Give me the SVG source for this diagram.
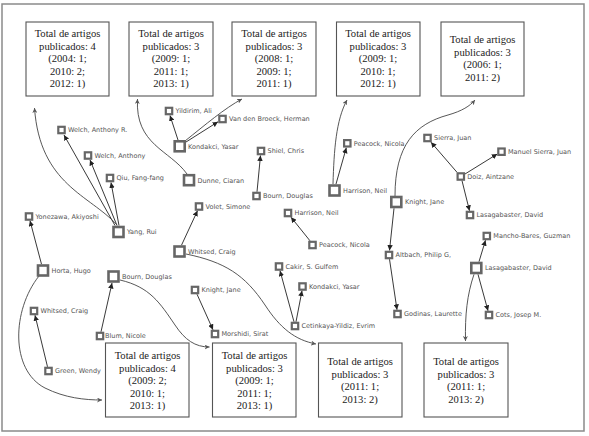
<svg xmlns="http://www.w3.org/2000/svg" width="589" height="436" viewBox="0 0 589 436">
<defs>
<marker id="ah" viewBox="0 0 10 10" refX="10" refY="5" markerWidth="5.5" markerHeight="5.5" markerUnits="userSpaceOnUse" orient="auto"><path d="M0,0 L10,5 L0,10 Z" fill="#222"/></marker>
<marker id="ahg" viewBox="0 0 10 10" refX="10" refY="5" markerWidth="5" markerHeight="5" markerUnits="userSpaceOnUse" orient="auto"><path d="M0,0 L10,5 L0,10 L3,5 Z" fill="#555"/></marker>
<style>
.frame{fill:#fff;stroke:#8a8a8a;stroke-width:1.5}
.box{fill:#fff;stroke:#555;stroke-width:1.1}
.bt{font-family:"Liberation Serif","Times New Roman",serif;font-size:10.6px;fill:#222;text-anchor:middle}
.s{fill:#fff;stroke:#666;stroke-width:2.2}
.b{fill:#fff;stroke:#666;stroke-width:2.6}
.lb{font-family:"DejaVu Sans",Verdana,sans-serif;font-size:6.5px;fill:#555}
.e{fill:none;stroke:#222;stroke-width:0.9;marker-end:url(#ah)}
.c{fill:none;stroke:#444;stroke-width:0.9;marker-end:url(#ahg)}
</style>
</defs>
<rect class="frame" x="2" y="4" width="582" height="427"/>

<g id="box1"><rect class="box" x="26" y="22" width="83" height="74"/><text class="bt" x="67.5" y="37">Total de artigos</text><text class="bt" x="67.5" y="49.5">publicados: 4</text><text class="bt" x="67.5" y="62">(2004: 1;</text><text class="bt" x="67.5" y="74.5">2010: 2;</text><text class="bt" x="67.5" y="87">2012: 1)</text></g>
<g id="box2"><rect class="box" x="129" y="22" width="84" height="74"/><text class="bt" x="171" y="37">Total de artigos</text><text class="bt" x="171" y="49.5">publicados: 3</text><text class="bt" x="171" y="62">(2009: 1;</text><text class="bt" x="171" y="74.5">2011: 1;</text><text class="bt" x="171" y="87">2013: 1)</text></g>
<g id="box3"><rect class="box" x="232" y="22" width="84" height="74"/><text class="bt" x="274" y="37">Total de artigos</text><text class="bt" x="274" y="49.5">publicados: 3</text><text class="bt" x="274" y="62">(2008: 1;</text><text class="bt" x="274" y="74.5">2009: 1;</text><text class="bt" x="274" y="87">2011: 1)</text></g>
<g id="box4"><rect class="box" x="336.5" y="22" width="83.5" height="74"/><text class="bt" x="378" y="37">Total de artigos</text><text class="bt" x="378" y="49.5">publicados: 3</text><text class="bt" x="378" y="62">(2009: 1;</text><text class="bt" x="378" y="74.5">2010: 1;</text><text class="bt" x="378" y="87">2012: 1)</text></g>
<g id="box5"><rect class="box" x="441" y="22" width="83" height="74"/><text class="bt" x="482.5" y="43">Total de artigos</text><text class="bt" x="482.5" y="55.5">publicados: 3</text><text class="bt" x="482.5" y="68">(2006: 1;</text><text class="bt" x="482.5" y="80.5">2011: 2)</text></g>
<g id="box6"><rect class="box" x="105.5" y="343" width="83.5" height="74"/><text class="bt" x="147.5" y="359">Total de artigos</text><text class="bt" x="147.5" y="371.5">publicados: 4</text><text class="bt" x="147.5" y="384">(2009: 2;</text><text class="bt" x="147.5" y="396.5">2010: 1;</text><text class="bt" x="147.5" y="409">2013: 1)</text></g>
<g id="box7"><rect class="box" x="212.5" y="343" width="83.5" height="74"/><text class="bt" x="254.5" y="359">Total de artigos</text><text class="bt" x="254.5" y="371.5">publicados: 3</text><text class="bt" x="254.5" y="384">(2009: 1;</text><text class="bt" x="254.5" y="396.5">2011: 1;</text><text class="bt" x="254.5" y="409">2013: 1)</text></g>
<g id="box8"><rect class="box" x="318.5" y="343" width="83.5" height="74"/><text class="bt" x="360" y="365">Total de artigos</text><text class="bt" x="360" y="377.5">publicados: 3</text><text class="bt" x="360" y="390">(2011: 1;</text><text class="bt" x="360" y="402.5">2013: 2)</text></g>
<g id="box9"><rect class="box" x="424" y="343" width="84" height="74"/><text class="bt" x="466" y="365">Total de artigos</text><text class="bt" x="466" y="377.5">publicados: 3</text><text class="bt" x="466" y="390">(2011: 1;</text><text class="bt" x="466" y="402.5">2013: 2)</text></g>

<g id="connectors">
<path class="e" d="M115,225.5 L64,135"/>
<path class="e" d="M117,225.5 L90,160"/>
<path class="e" d="M119,225.5 L111,182.5"/>
<path class="c" d="M117,225 C90,195 40,185 34.5,108"/>
<path class="e" d="M178,140 L170,115.5"/>
<path class="e" d="M186,142 L218,121.8"/>
<path class="c" d="M185,141 C205,125 225,108 242,99"/>
<path class="c" d="M187,174 C170,150 135,145 137.5,99"/>
<path class="e" d="M257,191.8 L260.5,155.5"/>
<path class="e" d="M336,184 L346.3,147.8"/>
<path class="c" d="M333,184 C334,150 336,120 347,100"/>
<path class="c" d="M395,196 C395,145 415,124 448,115 C462,111 470,106 475,100"/>
<path class="e" d="M394,208.3 L389.5,250.5"/>
<path class="e" d="M389.5,259.2 L397,309.8"/>
<path class="e" d="M457,172.3 L431,142.2"/>
<path class="e" d="M465,174 L497.3,154"/>
<path class="e" d="M462,180.7 L469.5,210.8"/>
<path class="e" d="M479,261.7 L485.5,240.2"/>
<path class="e" d="M478,274.3 L488,310.8"/>
<path class="c" d="M474,274.3 C467,295 465,315 465.5,341"/>
<path class="e" d="M41.5,264.2 L30,220.7"/>
<path class="c" d="M39,276 C12,310 10,370 45,388 C65,398 85,400 102,400"/>
<path class="e" d="M47.5,366.8 L35,315.2"/>
<path class="e" d="M101,331.8 L112,283"/>
<path class="c" d="M120,280 C150,287 160,303 175,325 C185,340 195,347 209.5,347"/>
<path class="e" d="M197,294.2 L213,329.8"/>
<path class="e" d="M181.5,245.2 L197.5,210.7"/>
<path class="c" d="M186,254 C225,262 245,275 265,305 C280,328 295,340 316,344"/>
<path class="e" d="M310,240.8 L291,217.2"/>
<path class="e" d="M294,321.8 L280,270.7"/>
<path class="e" d="M296,321.8 L302,290.7"/>
</g>

<g id="n_yildirim"><rect class="s" x="165.8" y="107.8" width="6.4" height="6.4"/><text class="lb" x="175.5" y="113.3">Yildirim, Ali</text></g>
<g id="n_vandenbroeck"><rect class="s" x="219.3" y="115.8" width="6.4" height="6.4"/><text class="lb" x="229" y="121.3">Van den Broeck, Herman</text></g>
<g id="n_welchr"><rect class="s" x="58.3" y="126.8" width="6.4" height="6.4"/><text class="lb" x="68" y="132.3">Welch, Anthony R.</text></g>
<g id="n_welcha"><rect class="s" x="84.8" y="152.3" width="6.4" height="6.4"/><text class="lb" x="94.5" y="157.8">Welch, Anthony</text></g>
<g id="n_qiu"><rect class="s" x="106.8" y="174.8" width="6.4" height="6.4"/><text class="lb" x="116.5" y="180.3">Qiu, Fang-fang</text></g>
<g id="n_kondakci1"><rect class="b" x="174.7" y="141.3" width="10" height="10"/><text class="lb" x="188" y="148.6">Kondakci, Yasar</text></g>
<g id="n_dunne"><rect class="b" x="184" y="175.2" width="10" height="10"/><text class="lb" x="197.5" y="182.5">Dunne, Ciaran</text></g>
<g id="n_shiel"><rect class="s" x="257.8" y="147.8" width="6.4" height="6.4"/><text class="lb" x="267.5" y="153.3">Shiel, Chris</text></g>
<g id="n_bourn1"><rect class="s" x="253.3" y="192.8" width="6.4" height="6.4"/><text class="lb" x="263" y="198.3">Bourn, Douglas</text></g>
<g id="n_volet"><rect class="s" x="195.8" y="203.3" width="6.4" height="6.4"/><text class="lb" x="205.5" y="208.8">Volet, Simone</text></g>
<g id="n_yonezawa"><rect class="s" x="25.8" y="213.3" width="6.4" height="6.4"/><text class="lb" x="35.5" y="218.8">Yonezawa, Akiyoshi</text></g>
<g id="n_yang"><rect class="b" x="113.5" y="227" width="10" height="10"/><text class="lb" x="127" y="234.3">Yang, Rui</text></g>
<g id="n_whitsed1"><rect class="b" x="174.5" y="246.5" width="10" height="10"/><text class="lb" x="188" y="253.8">Whitsed, Craig</text></g>
<g id="n_horta"><rect class="b" x="38" y="265.5" width="10" height="10"/><text class="lb" x="51.5" y="272.8">Horta, Hugo</text></g>
<g id="n_bourn2"><rect class="b" x="108.5" y="271.5" width="10" height="10"/><text class="lb" x="122" y="278.8">Bourn, Douglas</text></g>
<g id="n_knight1"><rect class="s" x="191.8" y="286.8" width="6.4" height="6.4"/><text class="lb" x="201.5" y="292.3">Knight, Jane</text></g>
<g id="n_whitsed2"><rect class="s" x="30.8" y="307.8" width="6.4" height="6.4"/><text class="lb" x="40.5" y="313.3">Whitsed, Craig</text></g>
<g id="n_blum"><rect class="s" x="96.8" y="332.8" width="6.4" height="6.4"/><text class="lb" x="105" y="338.3">Blum, Nicole</text></g>
<g id="n_morshidi"><rect class="s" x="211.8" y="330.8" width="6.4" height="6.4"/><text class="lb" x="221.5" y="336.3">Morshidi, Sirat</text></g>
<g id="n_green"><rect class="s" x="45.3" y="367.8" width="6.4" height="6.4"/><text class="lb" x="55" y="373.3">Green, Wendy</text></g>
<g id="n_harrison1"><rect class="b" x="329.5" y="185.5" width="10" height="10"/><text class="lb" x="343" y="192.8">Harrison, Neil</text></g>
<g id="n_peacock1"><rect class="s" x="344.1" y="140.1" width="6.4" height="6.4"/><text class="lb" x="353.8" y="145.6">Peacock, Nicola</text></g>
<g id="n_harrison2"><rect class="s" x="284.8" y="209.8" width="6.4" height="6.4"/><text class="lb" x="294.5" y="215.3">Harrison, Neil</text></g>
<g id="n_peacock2"><rect class="s" x="309.3" y="241.8" width="6.4" height="6.4"/><text class="lb" x="319" y="247.3">Peacock, Nicola</text></g>
<g id="n_cakir"><rect class="s" x="275.8" y="263.3" width="6.4" height="6.4"/><text class="lb" x="285.5" y="268.8">Cakir, S. Gulfem</text></g>
<g id="n_kondakci2"><rect class="s" x="299.3" y="283.3" width="6.4" height="6.4"/><text class="lb" x="309" y="288.8">Kondakci, Yasar</text></g>
<g id="n_cetinkaya"><rect class="s" x="291.8" y="322.8" width="6.4" height="6.4"/><text class="lb" x="301.5" y="328.3">Cetinkaya-Yildiz, Evrim</text></g>
<g id="n_sierra"><rect class="s" x="424.3" y="134.8" width="6.4" height="6.4"/><text class="lb" x="434" y="140.3">Sierra, Juan</text></g>
<g id="n_manuel"><rect class="s" x="498.3" y="148.5" width="6.4" height="6.4"/><text class="lb" x="508" y="154">Manuel Sierra, Juan</text></g>
<g id="n_doiz"><rect class="s" x="457.6" y="173.3" width="6.4" height="6.4"/><text class="lb" x="467.3" y="178.8">Doiz, Aintzane</text></g>
<g id="n_knight2"><rect class="b" x="391.3" y="197" width="10" height="10"/><text class="lb" x="405" y="204.3">Knight, Jane</text></g>
<g id="n_lasag1"><rect class="s" x="466.8" y="211.8" width="6.4" height="6.4"/><text class="lb" x="476.5" y="217.3">Lasagabaster, David</text></g>
<g id="n_mancho"><rect class="s" x="483.6" y="232.8" width="6.4" height="6.4"/><text class="lb" x="493.3" y="238.3">Mancho-Bares, Guzman</text></g>
<g id="n_altbach"><rect class="s" x="385.8" y="251.8" width="6.4" height="6.4"/><text class="lb" x="395.5" y="257.3">Altbach, Philip G,</text></g>
<g id="n_lasag2"><rect class="b" x="471.3" y="263" width="10" height="10"/><text class="lb" x="485" y="270.3">Lasagabaster, David</text></g>
<g id="n_godinas"><rect class="s" x="394.3" y="310.8" width="6.4" height="6.4"/><text class="lb" x="404" y="316.3">Godinas, Laurette</text></g>
<g id="n_cots"><rect class="s" x="485.8" y="311.8" width="6.4" height="6.4"/><text class="lb" x="495.5" y="317.3">Cots, Josep M.</text></g>
</svg>
